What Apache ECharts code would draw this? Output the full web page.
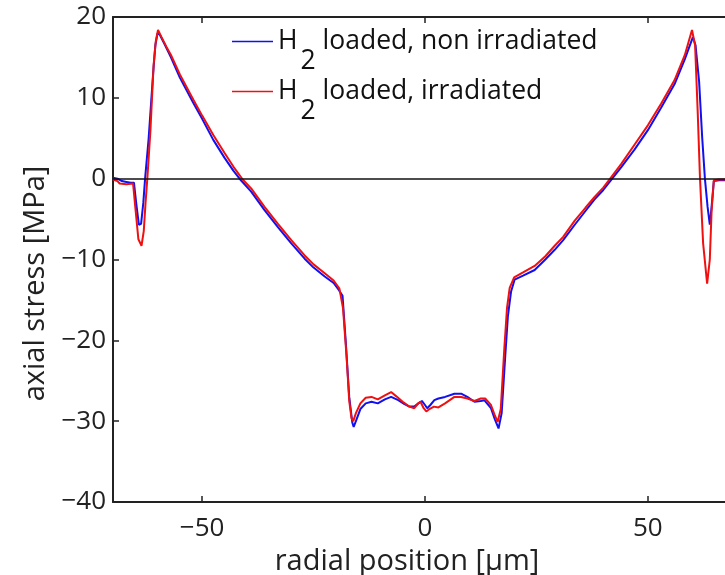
<!DOCTYPE html>
<html>
<head>
<meta charset="utf-8">
<script src="https://cdn.jsdelivr.net/npm/echarts@6/dist/echarts.min.js"></script>
<style>
html,body{margin:0;padding:0;background:#fff;overflow:hidden;}
#chart{width:725px;height:575px;}
</style>
</head>
<body>
<div id="chart"></div>
<script>
// radial position [µm] and axial stress [MPa]
const posBlue = [-70,-69,-68,-67,-66,-65.3,-64.8,-64.2,-63.7,-63.2,-62.8,-62,-61,-60.5,-60,-59.5,-58.5,-57,-55,-52,-50,-47.5,-45,-43,-41.3,-39,-36,-33,-30,-27,-25,-22.5,-20.5,-19.3,
  -18.5,-17.8,-17,-16.3,-16,-15.5,-14.5,-13.3,-12,-10.6,-9,-7.6,-6,-4.6,-3.5,-2.4,-1.5,-0.7,0,0.5,1.2,2.1,3,4.5,6.6,8.1,9.5,11.1,12.5,13.3,14.8,15.7,16.5,17.2,
  18,18.6,19.3,20.1,22,24.6,27,29.1,31,33.6,36,38,40,42,44,47,50,53,56,58.3,60.1,60.7,61.5,62.2,62.8,63.4,63.9,64.3,64.8,66,70];
const stressBlue = [0.1,0.0,-0.3,-0.4,-0.5,-0.5,-3.0,-5.7,-5.6,-3,0,5,13,16.5,18.0,17.8,16.7,15.0,12.5,9.4,7.4,4.8,2.6,1.0,-0.2,-1.6,-3.9,-6.0,-8.0,-9.9,-11.0,-12.1,-12.9,-13.8,
  -14.5,-20,-27,-30.2,-30.7,-30.0,-28.5,-27.8,-27.6,-27.8,-27.3,-27.0,-27.4,-27.9,-28.2,-28.2,-27.8,-27.5,-28.0,-28.4,-28.0,-27.4,-27.2,-27.0,-26.6,-26.6,-27.0,-27.6,-27.5,-27.4,-28.4,-29.8,-30.9,-29.0,
  -22,-17,-14,-12.5,-12.0,-11.3,-10.0,-8.8,-7.6,-5.7,-4.0,-2.6,-1.4,0,1.4,3.6,6.0,8.8,11.7,14.8,17.5,16.5,12,5,0,-3.5,-5.7,-3.5,-0.3,-0.2,-0.2];
const posRed = [-70,-69,-68.5,-67,-65.5,-65,-64.3,-63.6,-63.1,-62.7,-62.3,-61.6,-60.9,-60.4,-59.9,-59.2,-58,-57,-55,-52,-50,-47.5,-45,-43,-40.9,-39,-36,-33,-30,-27,-25,-22.5,-20.5,-19.2,
  -18.4,-17.6,-17,-16.5,-16.1,-15.5,-14.5,-13.3,-12,-10.6,-9,-7.6,-6.5,-5,-3.5,-2.4,-1.5,-1,-0.3,0.3,1,2,3,4.5,6.6,8.1,9.5,11.1,12.5,13.5,14.8,15.6,16.3,17,
  17.8,18.4,19,20,22,24.6,27,29.1,31,33.6,36,38,40,41.8,44,47,50,53,56,58.3,59.9,60.6,61.2,61.7,62.4,63.3,63.9,64.3,64.8,66,70];
const stressRed = [-0.1,-0.3,-0.6,-0.7,-0.6,-3.5,-7.5,-8.3,-6.5,-3,0,6,14,17,18.4,17.6,16.3,15.3,12.9,9.8,7.8,5.4,3.2,1.5,-0.1,-1.2,-3.5,-5.6,-7.6,-9.5,-10.6,-11.7,-12.6,-13.6,
  -16,-22,-27.5,-29.6,-30.0,-29.0,-27.8,-27.1,-27.0,-27.3,-26.8,-26.4,-26.9,-27.6,-28.2,-28.4,-27.8,-27.6,-28.4,-28.8,-28.5,-28.2,-28.3,-27.8,-27.0,-27.0,-27.2,-27.5,-27.2,-27.2,-28.0,-29.2,-30.1,-28.5,
  -21,-16,-13.5,-12.2,-11.6,-10.8,-9.6,-8.3,-7.2,-5.2,-3.6,-2.3,-1.1,0.2,1.8,4.2,6.6,9.3,12.2,15.3,18.4,16.5,8,0,-8,-13.0,-10,-4,-0.2,-0.1,-0.1];
const xTicks = [-50, 0, 50];
const seriesNames = ['loaded, non irradiated', 'loaded, irradiated'];

const FONT = 'Open Sans';
const AX = '#222';
const pair = (xs, ys) => xs.map((x, i) => [x, ys[i]]);
const minus = v => String(v).replace('-', '\u2212');

const chart = echarts.init(document.getElementById('chart'), null, {renderer: 'canvas'});
const LF = 26.5;
const legendText = {
  color: '#111', fontFamily: FONT, fontSize: LF,
  rich: {
    m: {fontFamily: FONT, fontSize: LF, color: '#111'},
    s: {fontFamily: FONT, fontSize: LF, color: '#111', padding: [40, 0, 0, 3]},
    t: {fontFamily: FONT, fontSize: LF, color: '#111'}
  }
};
const legendFmt = name => '{m|H}{s|2}{t| ' + name + '}';
const lineIcon = 'path://M0,0 L0,0.01 L0.01,0 Z M41,14 L41,13.99 L40.99,14 Z M0,6.2 L41,6.2 L41,7.8 L0,7.8 Z';
chart.setOption({
  animation: false,
  backgroundColor: '#fff',
  grid: {left: 113, right: -12, top: 17, bottom: 73, containLabel: false, outerBoundsMode: 'none'},
  legend: [
    {data: [{name: seriesNames[0], icon: lineIcon}], left: 232, top: 28, padding: 0, itemWidth: 41, itemHeight: 14,
     textStyle: legendText, formatter: legendFmt, selectedMode: false},
    {data: [{name: seriesNames[1], icon: lineIcon}], left: 232, top: 78, padding: 0, itemWidth: 41, itemHeight: 14,
     textStyle: legendText, formatter: legendFmt, selectedMode: false}
  ],
  xAxis: [{
    type: 'value', min: -70, max: 70, position: 'bottom',
    name: 'radial position [\u00b5m]', nameLocation: 'middle', nameGap: 37,
    nameTextStyle: {fontFamily: FONT, fontSize: 29, color: AX, padding: [0, 36, 0, 0]},
    axisLine: {show: true, onZero: false, lineStyle: {color: AX, width: 2}},
    axisTick: {show: true, inside: true, length: 6, customValues: xTicks, lineStyle: {color: AX, width: 1.5}},
    axisLabel: {customValues: xTicks, margin: 14, fontFamily: FONT, fontSize: 26, color: AX, formatter: minus},
    splitLine: {show: false}
  }, {
    type: 'value', min: -70, max: 70, position: 'top',
    axisLine: {show: true, onZero: false, lineStyle: {color: AX, width: 2}},
    axisTick: {show: true, inside: true, length: 6, customValues: xTicks, lineStyle: {color: AX, width: 1.5}},
    axisLabel: {show: false},
    splitLine: {show: false}
  }],
  yAxis: [{
    type: 'value', min: -40, max: 20, interval: 10,
    name: 'axial stress [MPa]', nameLocation: 'middle', nameGap: 62, nameRotate: 90,
    nameTextStyle: {fontFamily: FONT, fontSize: 29, color: AX, padding: [0, 48, 0, 0]},
    axisLine: {show: true, onZero: false, lineStyle: {color: AX, width: 2}},
    axisTick: {show: true, inside: true, length: 6, lineStyle: {color: AX, width: 1.5}},
    axisLabel: {margin: 7, fontFamily: FONT, fontSize: 26, color: AX, formatter: minus},
    splitLine: {show: false}
  }],
  series: [{
    name: seriesNames[0], type: 'line', data: pair(posBlue, stressBlue),
    showSymbol: false, symbol: 'none', clip: true,
    lineStyle: {color: '#1010f0', width: 2}, itemStyle: {color: '#1010f0'},
    markLine: {silent: true, symbol: 'none', label: {show: false},
      lineStyle: {color: '#111', width: 1.5, type: 'solid'}, data: [{yAxis: 0}]}
  }, {
    name: seriesNames[1], type: 'line', data: pair(posRed, stressRed),
    showSymbol: false, symbol: 'none', clip: true,
    lineStyle: {color: '#f01010', width: 2}, itemStyle: {color: '#f01010'}
  }]
});
</script>
</body>
</html>
